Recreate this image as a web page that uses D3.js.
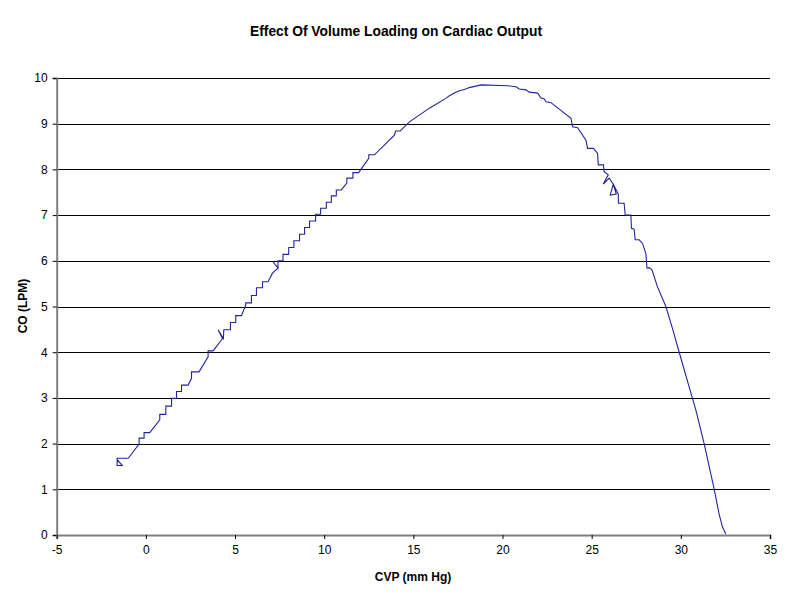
<!DOCTYPE html>
<html>
<head>
<meta charset="utf-8">
<script src="https://cdn.jsdelivr.net/npm/d3@7"></script>
<style>
    body { margin: 0; background: #fff; }
    text { font-family: "Liberation Sans", Arial, sans-serif; fill: #000; }
</style>
</head>
<body>
<div id="chart"></div>
<script>
// CVP (mm Hg) readings, in plotting order
var cvp = [
    -1.61, -1.32, -1.61, -1.61, -0.99, -0.38, -0.38, -0.10, -0.10, 0.22,
    0.78, 0.78, 1.12, 1.12, 1.44, 1.44, 1.72, 1.72, 2.00, 2.00,
    2.37, 2.56, 2.56, 2.98, 3.49, 3.49, 3.77, 4.30, 4.05, 4.35,
    4.37, 4.74, 4.74, 5.04, 5.04, 5.36, 5.60, 5.60, 5.92, 5.92,
    6.20, 6.20, 6.54, 6.54, 6.85, 7.10, 7.41, 7.13, 7.41, 7.41,
    7.69, 7.69, 8.01, 8.01, 8.30, 8.30, 8.62, 8.62, 8.90, 8.90,
    9.18, 9.18, 9.52, 9.52, 9.80, 9.80, 10.12, 10.12, 10.40, 10.40,
    10.68, 10.68, 10.96, 11.27, 11.27, 11.61, 11.61, 11.93, 12.50, 12.50,
    12.82, 13.94, 14.00, 14.26, 14.78, 15.90, 16.84, 17.02, 17.30, 17.58,
    17.86, 18.14, 18.80, 20.29, 20.76, 20.94, 21.32, 21.50, 21.97, 22.16,
    22.34, 22.44, 22.72, 23.84, 23.93, 24.21, 24.68, 24.77, 25.10, 25.33,
    25.37, 25.66, 25.70, 25.93, 25.65, 25.98, 26.21, 26.04, 26.38, 26.21,
    26.49, 26.50, 26.82, 26.88, 27.20, 27.23, 27.38, 27.44, 27.66, 27.85,
    28.04, 28.10, 28.22, 28.38, 28.69, 29.16, 29.53, 29.90, 30.65, 30.84,
    31.30, 31.86, 32.14, 32.33, 32.52
];

// CO (LPM) readings, same order
var co = [
    1.65, 1.52, 1.52, 1.68, 1.68, 1.99, 2.12, 2.12, 2.24, 2.24,
    2.52, 2.64, 2.64, 2.82, 2.82, 2.99, 2.99, 3.14, 3.14, 3.28,
    3.28, 3.43, 3.57, 3.57, 3.90, 4.03, 4.03, 4.30, 4.49, 4.30,
    4.49, 4.49, 4.65, 4.65, 4.80, 4.80, 5.03, 5.08, 5.08, 5.24,
    5.24, 5.41, 5.41, 5.54, 5.54, 5.73, 5.84, 5.98, 5.84, 6.00,
    6.00, 6.14, 6.14, 6.29, 6.29, 6.44, 6.44, 6.58, 6.58, 6.73,
    6.73, 6.87, 6.87, 7.02, 7.02, 7.15, 7.15, 7.28, 7.28, 7.42,
    7.42, 7.55, 7.55, 7.70, 7.81, 7.81, 7.93, 7.93, 8.24, 8.32,
    8.32, 8.75, 8.84, 8.84, 9.04, 9.34, 9.56, 9.61, 9.67, 9.72,
    9.75, 9.79, 9.85, 9.83, 9.81, 9.76, 9.74, 9.69, 9.67, 9.56,
    9.54, 9.48, 9.46, 9.12, 8.93, 8.91, 8.64, 8.46, 8.46, 8.35,
    8.10, 8.10, 7.95, 7.88, 7.68, 7.81, 7.68, 7.44, 7.46, 7.68,
    7.46, 7.26, 7.26, 7.00, 7.00, 6.71, 6.69, 6.46, 6.46, 6.38,
    6.16, 5.84, 5.85, 5.80, 5.43, 5.00, 4.52, 4.01, 2.99, 2.74,
    2.01, 1.02, 0.47, 0.18, 0.02
];

var xTicks = [-5, 0, 5, 10, 15, 20, 25, 30, 35];
var yTicks = [0, 1, 2, 3, 4, 5, 6, 7, 8, 9, 10];

(function()
{
    var width = 792, height = 602;

    var svg = d3.select('#chart').append('svg')
        .attr('width', width)
        .attr('height', height);

    var x = d3.scaleLinear().domain([-5, 35]).range([56.7, 770]),
        y = d3.scaleLinear().domain([0, 10]).range([535, 78]);

    // plain hyphen for negatives, like the original
    var fmt = function(d) { return String(d); };

    // horizontal gridlines
    svg.append('g')
        .selectAll('line')
        .data(yTicks.filter(function(d) { return d > 0; }))
        .enter().append('line')
        .attr('x1', x(-5))
        .attr('x2', x(35))
        .attr('y1', function(d) { return Math.round(y(d)) + 0.5; })
        .attr('y2', function(d) { return Math.round(y(d)) + 0.5; })
        .attr('stroke', '#000')
        .attr('stroke-width', 1.2);

    var yAxis = svg.append('g')
        .attr('transform', 'translate(' + x(-5) + ',0)')
        .call(d3.axisLeft(y).tickValues(yTicks).tickSize(4).tickPadding(5).tickFormat(fmt));

    var xAxis = svg.append('g')
        .attr('transform', 'translate(0,' + y(0) + ')')
        .call(d3.axisBottom(x).tickValues(xTicks).tickSize(4).tickPadding(6).tickFormat(fmt));

    [xAxis, yAxis].forEach(function(a)
    {
        a.select('.domain').attr('stroke', '#808080').attr('stroke-width', 2);
        a.selectAll('.tick line').attr('stroke', '#000');
        a.selectAll('.tick text')
            .attr('fill', '#000')
            .style('font-size', '12px')
            .style('font-family', '"Liberation Sans", Arial, sans-serif');
    });

    var points = cvp.map(function(v, i) { return [v, co[i]]; });

    svg.append('path')
        .datum(points)
        .attr('fill', 'none')
        .attr('stroke', '#24249c')
        .attr('stroke-width', 1.1)
        .attr('stroke-linejoin', 'miter')
        .attr('d', d3.line()
            .x(function(d) { return x(d[0]); })
            .y(function(d) { return y(d[1]); }));

    svg.append('text')
        .attr('x', 396)
        .attr('y', 36)
        .attr('text-anchor', 'middle')
        .attr('textLength', 292)
        .attr('lengthAdjust', 'spacingAndGlyphs')
        .style('font-size', '14px')
        .style('font-weight', 'bold')
        .text('Effect Of Volume Loading on Cardiac Output');

    svg.append('text')
        .attr('x', 413)
        .attr('y', 581)
        .attr('text-anchor', 'middle')
        .style('font-size', '12px')
        .style('font-weight', 'bold')
        .text('CVP (mm Hg)');

    svg.append('text')
        .attr('transform', 'translate(27,306) rotate(-90)')
        .attr('text-anchor', 'middle')
        .style('font-size', '12px')
        .style('font-weight', 'bold')
        .text('CO (LPM)');
})();
</script>
</body>
</html>
